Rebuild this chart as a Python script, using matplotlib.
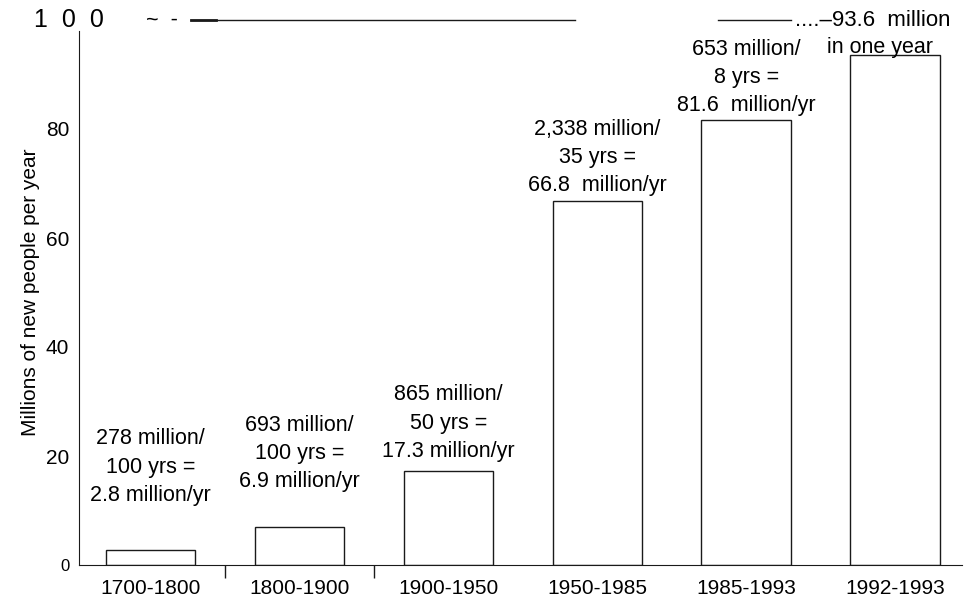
import matplotlib.pyplot as plt

plt.rcParams['font.family'] = ['Liberation Sans', 'DejaVu Sans']

periods = ['1700-1800', '1800-1900', '1900-1950', '1950-1985', '1985-1993', '1992-1993']
per_year = [2.8, 6.9, 17.3, 66.8, 81.6, 93.6]
totals = ['278 million/', '693 million/', '865 million/', '2,338 million/', '653 million/']
spans = ['100 yrs =', '100 yrs =', '50 yrs =', '35 yrs =', '8 yrs =']
rates = ['2.8 million/yr', '6.9 million/yr', '17.3 million/yr', '66.8  million/yr', '81.6  million/yr']

# gap (pixels) between bar top and its label
label_gap = [44, 35, 9, 5, 4]

fig = plt.figure(figsize=(9.71, 6.01), dpi=100)
ax = fig.add_axes([79 / 971, 36 / 601, 1 - 79 / 971, 545 / 601])

x = range(len(periods))
ax.bar(x, per_year, width=0.6, color='white', edgecolor='#1a1a1a', linewidth=1.0)

for i in range(len(totals)):
    ax.annotate(totals[i] + '\n' + spans[i] + '\n' + rates[i],
                xy=(i, per_year[i]), xytext=(0, label_gap[i]), textcoords='offset pixels',
                ha='center', va='bottom', fontsize=15.5, linespacing=1.45)

# last bar: label at the top line
ax.text(4.33, 100, '....\u201393.6  million', ha='left', va='center', fontsize=16, clip_on=False)
ax.text(4.9, 95, 'in one year', ha='center', va='center', fontsize=15.5)

# broken top line at 100
ax.plot([0.27, 2.85], [100, 100], color='#1a1a1a', lw=1.0, clip_on=False)
ax.plot([3.81, 4.30], [100, 100], color='#1a1a1a', lw=1.0, clip_on=False)
ax.plot([0.27, 0.44], [100, 100], color='#1a1a1a', lw=2.0, clip_on=False)
ax.text(0.08, 100, '~  -', ha='center', va='center', fontsize=15.5, clip_on=False)
ax.text(-0.55, 100, '1  0  0', ha='center', va='center', fontsize=18, clip_on=False)

ax.set_xlim(-0.48, 5.51)
ax.set_ylim(0, 100)
ax.set_xticks(list(x))
ax.set_xticklabels(periods, fontsize=15)
ax.set_xticks([0.5, 1.5], minor=True)
ax.tick_params(axis='x', which='major', length=0, pad=10)
ax.tick_params(axis='x', which='minor', length=9, width=1.0, color='#1a1a1a')

ax.set_yticks([0, 20, 40, 60, 80])
ax.set_yticklabels(['0', '20', '40', '60', '80'], fontsize=15)
ax.get_yticklabels()[0].set_fontsize(12)
ax.tick_params(axis='y', length=0, pad=7)
ax.set_ylabel('Millions of new people per year', fontsize=15, labelpad=4)

for s in ['top', 'right']:
    ax.spines[s].set_visible(False)
ax.spines['left'].set_bounds(0, 98)
ax.spines['bottom'].set_bounds(-0.48, 5.45)
ax.spines['left'].set_color('#1a1a1a')
ax.spines['bottom'].set_color('#1a1a1a')

fig.savefig('out.png', dpi=100)
